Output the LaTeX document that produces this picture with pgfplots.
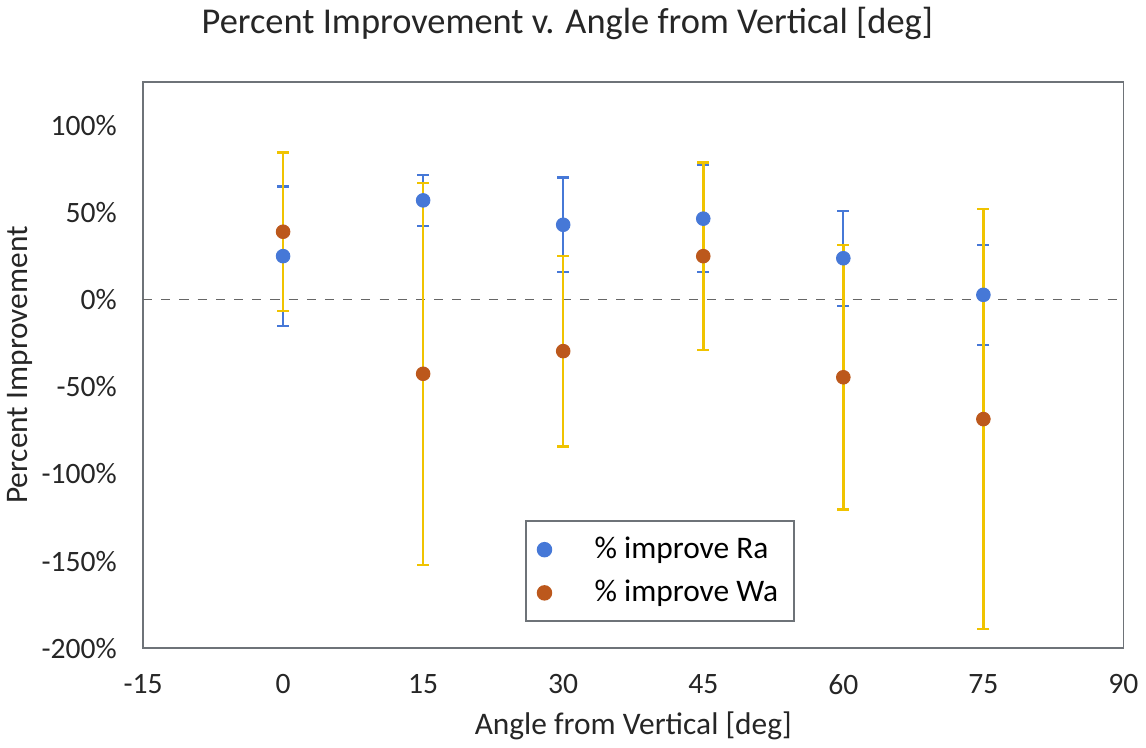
\documentclass[border=0pt]{standalone}
\usepackage{fontspec}
\setmainfont{Carlito}
\usepackage{pgfplots}
\usepackage{pgfplotstable}
\pgfplotsset{compat=1.18}
\definecolor{ra}{RGB}{70,120,215}
\definecolor{wa}{RGB}{188,88,28}
\definecolor{waerr}{RGB}{240,195,0}
\definecolor{frame}{RGB}{110,115,120}
\pgfplotstableread{
x ra rae wa wae
0 25 40 39 45.5
15 57 14.7 -42.5 109.6
30 43 27.2 -29.5 54.6
45 46.5 30.8 25 53.8
60 23.8 27.2 -44.5 76
75 2.8 28.7 -68.5 120.5
}\data
\begin{document}
\begin{tikzpicture}
\begin{axis}[
  scale only axis, width=431pt, height=249pt,
  xmin=-15, xmax=90, ymin=-200, ymax=125,
  xtick={-15,0,15,30,45,60,75,90},
  ytick={-200,-150,-100,-50,0,50,100},
  yticklabel={\pgfmathprintnumber{\tick}\%},
  /pgf/number format/assume math mode=true,
  major tick length=0,
  axis line style={draw=frame, line width=0.8pt},
  tick label style={font=\fontsize{13}{15}\selectfont, text=black!85},
  yticklabel style={xshift=-8pt},
  xticklabel style={yshift=-8pt},
  title={Percent Improvement v. Angle from Vertical [deg]},
  title style={font=\fontsize{16}{18}\selectfont, text=black!85, at={(0.5,1)}, anchor=center, yshift=19.5pt, xshift=-29pt},
  xlabel={Angle from Vertical [deg]},
  xlabel style={font=\fontsize{13.8}{16}\selectfont, text=black!85, at={(0.5,0)}, anchor=center, yshift=-34pt},
  ylabel={Percent Improvement},
  ylabel style={font=\fontsize{13.8}{16}\selectfont, text=black!85, at={(0,0.5)}, anchor=center, rotate=0, yshift=54pt},
  legend style={at={(0.39,0.046)}, anchor=south west, draw=frame, line width=0.8pt, font=\fontsize{13.8}{16}\selectfont, row sep=4pt, inner xsep=5pt, inner ysep=5pt},
  legend cell align=left,
  legend image post style={xshift=1.5pt},
]
\addplot[forget plot, dashed, draw=gray!80!black, line width=0.6pt, dash pattern=on 4pt off 4pt] coordinates {(-15,0) (90,0)};
\addplot[forget plot, only marks, mark=none, error bars/.cd, y dir=both, y explicit,
  error bar style={draw=ra, line width=1pt, solid},
  error mark options={rotate=90, mark size=2.6pt, line width=1pt, draw=ra}]
  table[x=x, y=ra, y error=rae] {\data};
\addplot[forget plot, only marks, mark=none, error bars/.cd, y dir=both, y explicit,
  error bar style={draw=waerr, line width=1.1pt, solid},
  error mark options={rotate=90, mark size=2.6pt, line width=1.1pt, draw=waerr}]
  table[x=x, y=wa, y error=wae] {\data};
\addplot[only marks, mark=*, mark size=3pt, mark options={fill=ra, draw=ra}] table[x=x, y=ra] {\data};
\addlegendentry{\hspace{17pt}\% improve Ra}
\addplot[only marks, mark=*, mark size=3pt, mark options={fill=wa, draw=wa}] table[x=x, y=wa] {\data};
\addlegendentry{\hspace{17pt}\% improve Wa}
\end{axis}
\end{tikzpicture}
\end{document}
